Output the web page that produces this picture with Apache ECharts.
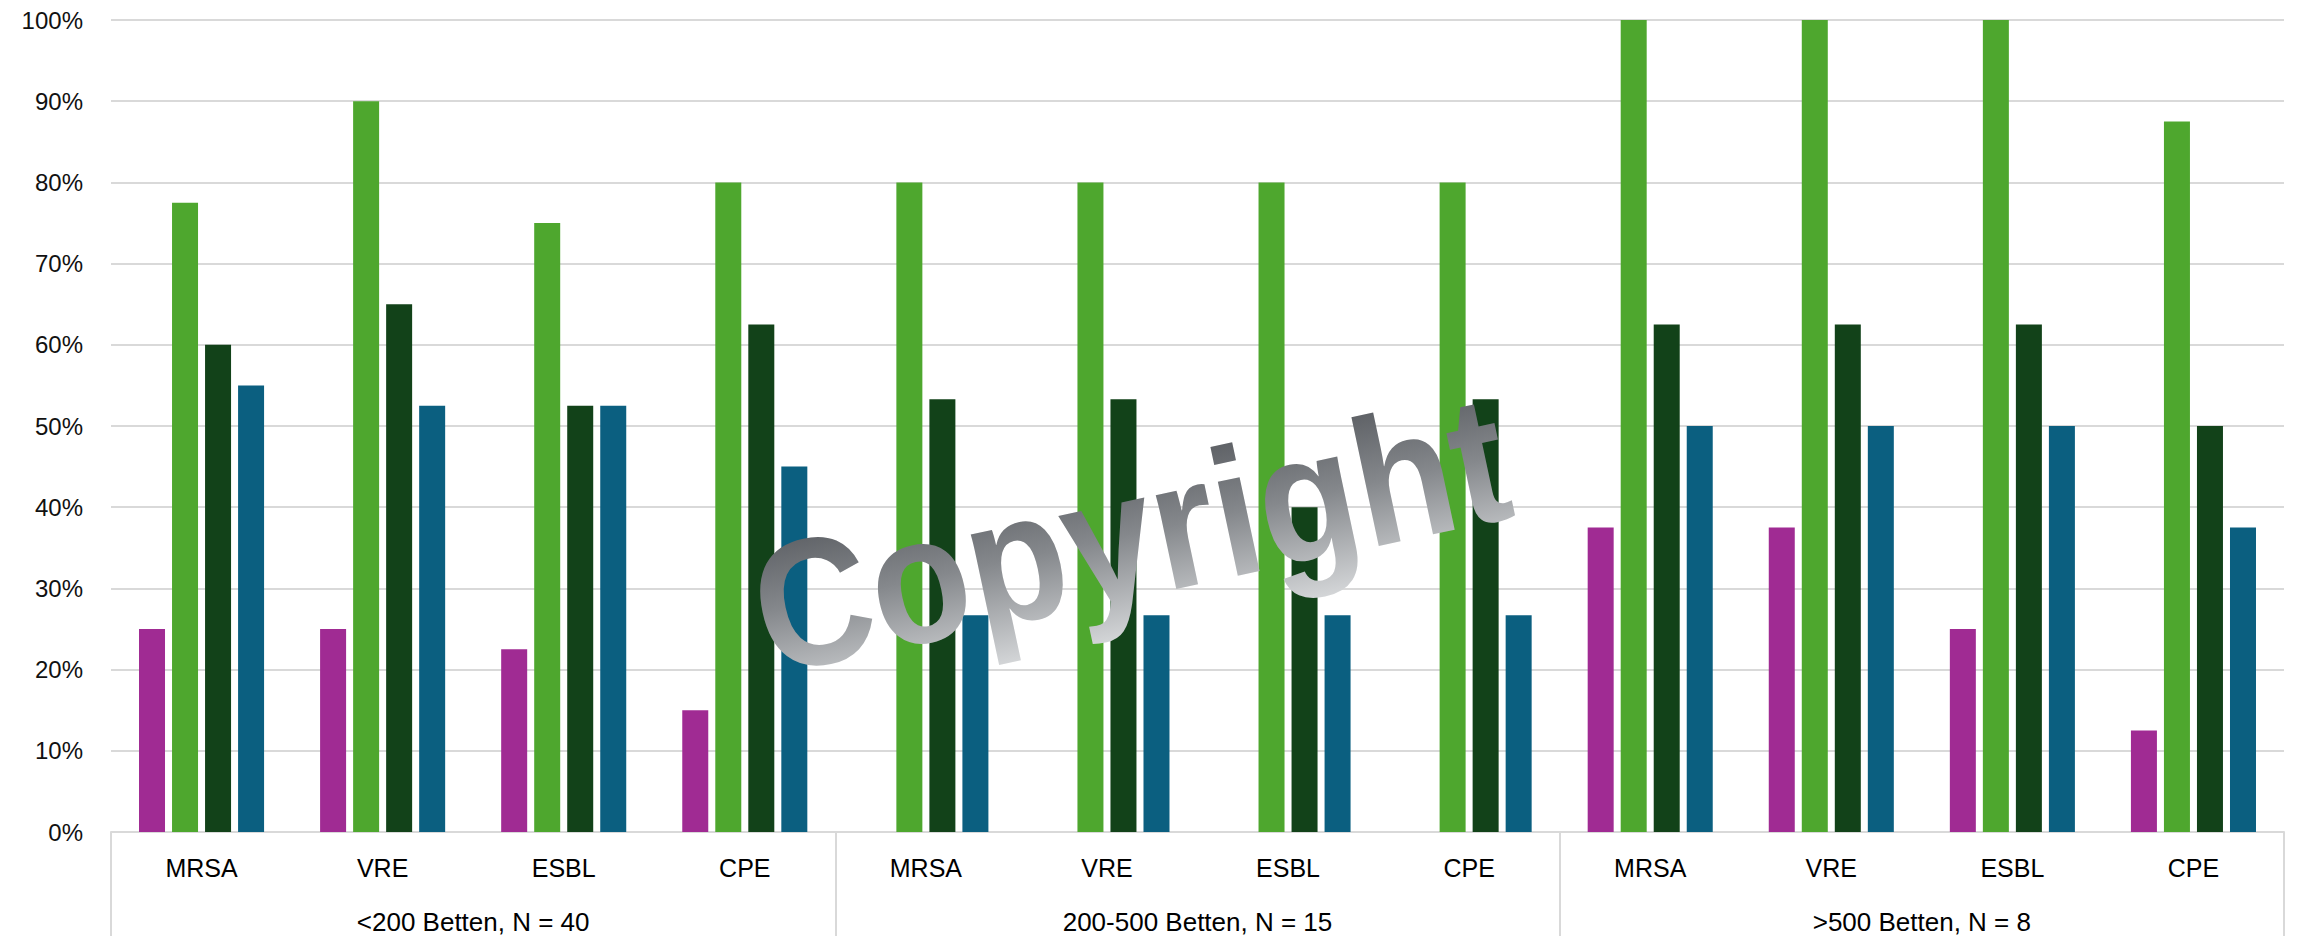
<!DOCTYPE html>
<html>
<head>
<meta charset="utf-8">
<script src="https://cdn.jsdelivr.net/npm/echarts@6/dist/echarts.min.js"></script>
<style>
html,body{margin:0;padding:0;background:#fff;}
#chart{width:2300px;height:936px;}
</style>
</head>
<body>
<div id="chart"></div>
<script>
var categories = ['MRSA','VRE','ESBL','CPE','MRSA','VRE','ESBL','CPE','MRSA','VRE','ESBL','CPE'];
var groups = ['<200 Betten, N = 40', '200-500 Betten, N = 15', '>500 Betten, N = 8'];
var yTicks = [0,10,20,30,40,50,60,70,80,90,100];
var seriesA = [25, 25, 22.5, 15, 0, 0, 0, 0, 37.5, 37.5, 25, 12.5];
var seriesB = [77.5, 90, 75, 80, 80, 80, 80, 80, 100, 100, 100, 87.5];
var seriesC = [60, 65, 52.5, 62.5, 53.3, 53.3, 40, 53.3, 62.5, 62.5, 62.5, 50];
var seriesD = [55, 52.5, 52.5, 45, 26.7, 26.7, 26.7, 26.7, 50, 50, 50, 37.5];
var seriesNames = ['Serie 1','Serie 2','Serie 3','Serie 4'];
var colors = ['#a02b93','#4ea72e','#124219','#0b5f80'];
var watermark = 'Copyright';

var chart = echarts.init(document.getElementById('chart'), null, {renderer:'svg'});
var lineCol = '#d9d9d9';
function bar(name, data, color){
  return {type:'bar', name:name, data:data, xAxisIndex:0, barWidth:26, barGap:'27%',
    itemStyle:{color:color}, animation:false};
}

chart.setOption({
  animation:false,
  grid:{left:111, right:16, top:20, bottom:104, containLabel:false},
  xAxis:[
    {type:'category', data:categories, position:'bottom',
     axisLine:{show:true, lineStyle:{color:lineCol, width:2}},
     axisTick:{show:false},
     axisLabel:{color:'#000', fontSize:25, fontFamily:'Liberation Sans', margin:23, interval:0}},
    {type:'category', data:groups, position:'bottom',
     axisLine:{show:false},
     axisTick:{show:true, length:110, lineStyle:{color:lineCol, width:2}},
     axisLabel:{color:'#000', fontSize:26, fontFamily:'Liberation Sans', margin:77, interval:0}}
  ],
  yAxis:{type:'value', min:0, max:100, interval:10,
    axisLine:{show:false}, axisTick:{show:false},
    axisLabel:{formatter:function(v){return yTicks.indexOf(v)>=0 ? v+'%' : '';}, color:'#111', fontSize:24, fontFamily:'Liberation Sans', margin:28},
    splitLine:{lineStyle:{color:lineCol, width:2}}},
  series:[
    bar(seriesNames[0], seriesA, colors[0]),
    bar(seriesNames[1], seriesB, colors[1]),
    bar(seriesNames[2], seriesC, colors[2]),
    bar(seriesNames[3], seriesD, colors[3])
  ],
  graphic:[{
    type:'text', id:'wm', x:1130, y:534, rotation:12*Math.PI/180, scaleY:1.12, z:100,
    style:{text:watermark, font:'bold 162px "Liberation Sans"', align:'center', verticalAlign:'middle',
      fill:'#85888c'}
  }]
});

// apply a vertical grey gradient to the watermark text spans (SVG renderer supports gradient on text)
try {
  var textGrad = new echarts.graphic.LinearGradient(0, 0, 0, 1, [
    {offset:0, color:'#4e5156'},
    {offset:0.5, color:'#85888c'},
    {offset:1, color:'#d4d6d8'}
  ]);
  var zr = chart.getZr();
  var list = zr.storage.getDisplayList(true);
  for (var i = 0; i < list.length; i++) {
    var el = list[i];
    if (el.style && el.style.text === watermark) {
      el.style.fill = textGrad;
      el.markRedraw && el.markRedraw();
    }
  }
  zr.refreshImmediately && zr.refreshImmediately();
} catch (e) { console.log(e); }
</script>
</body>
</html>
